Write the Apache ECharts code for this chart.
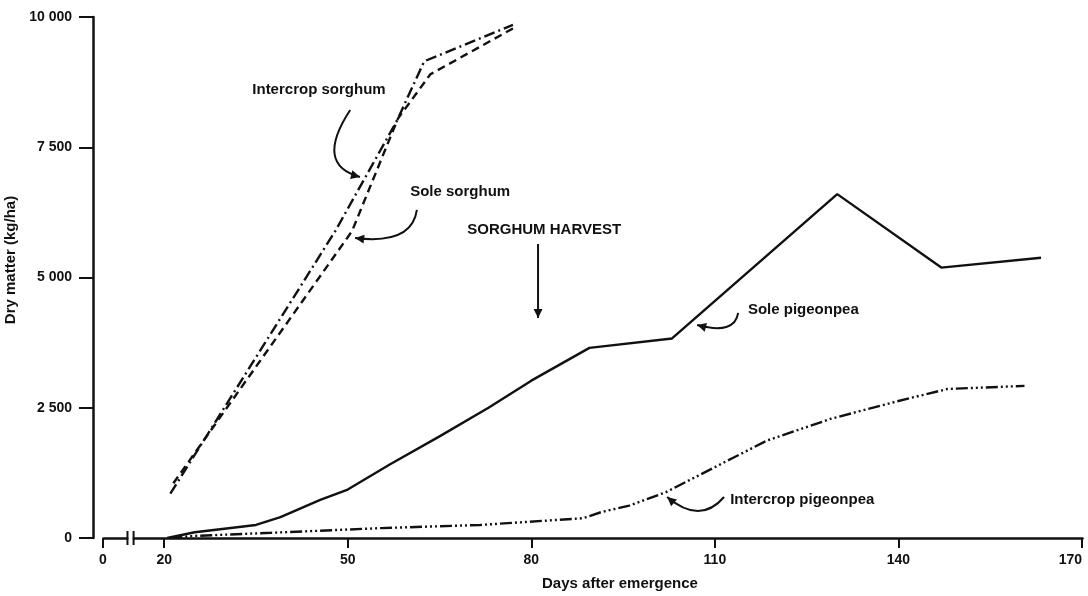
<!DOCTYPE html>
<html>
<head>
<meta charset="utf-8">
<script src="https://cdn.jsdelivr.net/npm/echarts@6/dist/echarts.min.js"></script>
<style>
  html, body { margin: 0; padding: 0; background: #fff; }
  #chart { width: 1088px; height: 596px; }
</style>
</head>
<body>
<div id="chart"></div>
<script>
// Axis ticks
const xTicks = [0, 20, 50, 80, 110, 140, 170];
const yTicks = [0, 2500, 5000, 7500, 10000];
const yTickLabels = ['0', '2 500', '5 000', '7 500', '10 000'];

// Dry matter (kg/ha) by days after emergence
const intercropSorghum = [[21, 850], [48, 5900], [58, 8000], [62.5, 9150], [77, 9850]];
const soleSorghum = [[21.5, 1050], [50.7, 5890], [58.2, 8050], [63.5, 8900], [77, 9780]];
const solePigeonpea = [[20.5, 0], [25, 110], [35, 250], [39, 400], [45.5, 730], [50, 930], [57, 1420],
  [65, 1950], [73, 2500], [80, 3020], [89.5, 3650], [103, 3830], [130, 6600], [147, 5190], [163.3, 5380]];
const intercropPigeonpea = [[21, 0], [25, 40], [37.5, 100], [55.5, 190], [71.6, 250], [88.5, 380],
  [91.5, 500], [96, 620], [102, 880], [113, 1540], [118.5, 1870], [129, 2290], [140, 2630],
  [148, 2860], [160.6, 2920]];

// Callout labels, with curved pointers (start, control, tip) in data units
const noteTexts = ['Intercrop sorghum', 'Sole sorghum', 'SORGHUM HARVEST', 'Sole pigeonpea', 'Intercrop pigeonpea'];
const noteAnchors = [[34.4, 8600], [60.2, 6640], [82.1, 5912], [115.4, 4376], [112.5, 729]];
const noteAlign = ['left', 'left', 'center', 'left', 'left'];
const notePointers = [
  [[50.4, 8215], [44.5, 7160], [52.0, 6930]],
  [[61.3, 6296], [60.5, 5624], [51.2, 5758]],
  [[81.1, 5643], [81.1, 4930], [81.1, 4223]],
  [[113.8, 4319], [113.3, 3896], [107.1, 4088]],
  [[111.5, 787], [107.6, 250], [102.2, 787]]
];

const INK = '#111';
const FONT = "'Liberation Sans', Arial, sans-serif";

const chart = echarts.init(document.getElementById('chart'), null, { renderer: 'canvas' });

function lineSeries(name, data, dash) {
  return {
    name, type: 'line', data, symbol: 'none', smooth: false, silent: true,
    lineStyle: { color: INK, width: 2.4, type: dash, cap: 'butt' }
  };
}

chart.setOption({
  animation: false,
  backgroundColor: '#fff',
  grid: { left: 103, right: 6, top: 17, bottom: 58, containLabel: false, outerBoundsMode: 'none' },
  xAxis: {
    type: 'value', min: 0, max: 170,
    breaks: [{ start: 4, end: 15, gap: 1 }],
    breakArea: { show: false },
    axisLine: { show: true, onZero: false, lineStyle: { color: INK, width: 2.5 } },
    axisTick: { show: true, length: 10, inside: false, customValues: xTicks, lineStyle: { color: INK, width: 2 } },
    axisLabel: {
      customValues: xTicks, margin: 15, alignMaxLabel: 'right',
      color: INK, fontSize: 14, fontWeight: 'bold', fontFamily: FONT
    },
    splitLine: { show: false },
    name: 'Days after emergence', nameLocation: 'middle', nameGap: 38,
    nameTextStyle: { color: INK, fontSize: 15, fontWeight: 'bold', fontFamily: FONT, padding: [0, 0, 0, 55] }
  },
  yAxis: {
    type: 'value', min: 0, max: 10000, interval: 2500, offset: 10,
    axisLine: { show: true, onZero: false, lineStyle: { color: INK, width: 2.5 } },
    axisTick: { show: true, length: 14, lineStyle: { color: INK, width: 2 } },
    axisLabel: {
      margin: 21, color: INK, fontSize: 14, fontWeight: 'bold', fontFamily: FONT,
      formatter: v => yTickLabels[yTicks.indexOf(v)]
    },
    splitLine: { show: false },
    name: 'Dry matter (kg/ha)', nameLocation: 'middle', nameGap: 68, nameRotate: 90,
    nameTextStyle: { color: INK, fontSize: 15, fontWeight: 'bold', fontFamily: FONT, padding: [0, 0, 0, 35] }
  },
  series: [
    lineSeries('Intercrop sorghum', intercropSorghum, [11, 4, 2, 4]),
    lineSeries('Sole sorghum', soleSorghum, [8, 5]),
    lineSeries('Sole pigeonpea', solePigeonpea, 'solid'),
    lineSeries('Intercrop pigeonpea', intercropPigeonpea, [12, 3, 2, 3, 2, 3, 2, 3])
  ]
});

// Callouts and the axis break marks, placed through the chart's own coordinate system
const px = p => chart.convertToPixel({ gridIndex: 0 }, p);
const graphics = [];

noteTexts.forEach((t, i) => {
  const a = px(noteAnchors[i]);
  graphics.push({
    type: 'text', x: a[0], y: a[1], z: 50,
    style: { text: t, fill: INK, font: `bold 15px ${FONT}`, textAlign: noteAlign[i], textVerticalAlign: 'middle' }
  });
  const [s, c, e] = notePointers[i].map(px);
  graphics.push({
    type: 'bezierCurve', z: 50,
    shape: { x1: s[0], y1: s[1], x2: e[0], y2: e[1], cpx1: c[0], cpy1: c[1] },
    style: { stroke: INK, lineWidth: 2, fill: null }
  });
  let dx = e[0] - c[0], dy = e[1] - c[1];
  const len = Math.hypot(dx, dy) || 1;
  dx /= len; dy /= len;
  const bx = e[0] - dx * 9, by = e[1] - dy * 9;
  graphics.push({
    type: 'polygon', z: 51,
    shape: { points: [[e[0], e[1]], [bx - dy * 4.5, by + dx * 4.5], [bx + dy * 4.5, by - dx * 4.5]] },
    style: { fill: INK }
  });
});

const b0 = px([4, 0]), b1 = px([15, 0]);
graphics.push({ type: 'rect', z: 60, shape: { x: b0[0] + 1, y: b0[1] - 3, width: b1[0] - b0[0] - 2, height: 6 }, style: { fill: '#fff' } });
[b0[0], b1[0]].forEach(x => graphics.push({
  type: 'line', z: 61, shape: { x1: x, y1: b0[1] - 7, x2: x, y2: b0[1] + 7 }, style: { stroke: INK, lineWidth: 2 }
}));

chart.setOption({ graphic: graphics });
</script>
</body>
</html>
